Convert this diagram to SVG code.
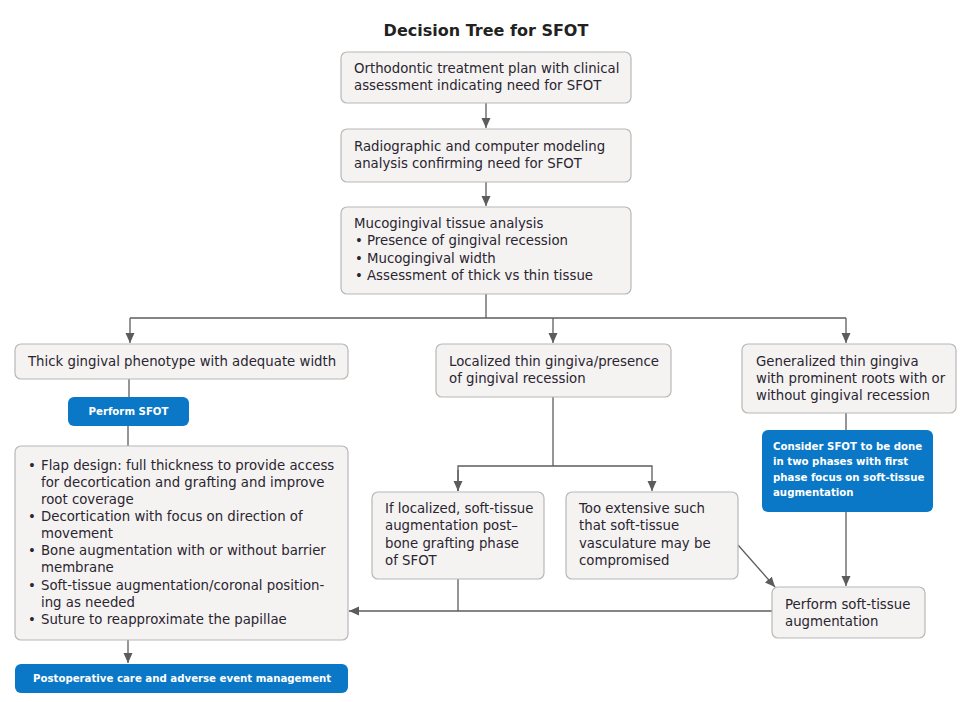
<svg xmlns="http://www.w3.org/2000/svg" width="967" height="702" viewBox="0 0 967 702">
<defs>
<marker id="ah" viewBox="0 0 10 10" refX="10" refY="5" markerWidth="10" markerHeight="10" markerUnits="userSpaceOnUse" orient="auto">
<path d="M0,0.5 L10,5 L0,9.5 Z" fill="#5c5c5c"/>
</marker>
<style>
.box{fill:#f4f3f2;stroke:#b8b8b8;stroke-width:1.2}
.blue{fill:#0a78c6}
.t{font-family:"DejaVu Sans","Liberation Sans",sans-serif;font-size:13.3px;fill:#2b2530}
.w{font-family:"DejaVu Sans","Liberation Sans",sans-serif;font-size:10.2px;font-weight:bold;fill:#ffffff}
.ttl{font-family:"DejaVu Sans","Liberation Sans",sans-serif;font-size:16px;font-weight:bold;fill:#222}
.c{fill:none;stroke:#5c5c5c;stroke-width:1.3}
</style>
</defs>
<rect width="967" height="702" fill="#ffffff"/>
<text class="ttl" x="486" y="36" text-anchor="middle">Decision Tree for SFOT</text>

<g id="connectors">
<line class="c" x1="486" y1="103" x2="486" y2="128" marker-end="url(#ah)"/>
<line class="c" x1="486" y1="182" x2="486" y2="206" marker-end="url(#ah)"/>
<polyline class="c" points="486,294 486,318"/>
<polyline class="c" points="130,318 846,318"/>
<line class="c" x1="130" y1="318" x2="130" y2="343" marker-end="url(#ah)"/>
<line class="c" x1="553" y1="318" x2="553" y2="343" marker-end="url(#ah)"/>
<line class="c" x1="846" y1="318" x2="846" y2="343" marker-end="url(#ah)"/>
<line class="c" x1="129" y1="379" x2="129" y2="397"/>
<line class="c" x1="128" y1="426" x2="128" y2="446"/>
<line class="c" x1="128" y1="640" x2="128" y2="663" marker-end="url(#ah)"/>
<line class="c" x1="553" y1="397" x2="553" y2="466"/>
<polyline class="c" points="458,491 458,466 652,466 652,491" marker-end="url(#ah)"/>
<line class="c" x1="458" y1="470" x2="458" y2="491" marker-end="url(#ah)"/>
<polyline class="c" points="458,579 458,611"/>
<line class="c" x1="772" y1="611" x2="349" y2="611" marker-end="url(#ah)"/>
<line class="c" x1="738" y1="545" x2="775" y2="587" marker-end="url(#ah)"/>
<line class="c" x1="846" y1="413" x2="846" y2="430"/>
<line class="c" x1="846" y1="512" x2="846" y2="586" marker-end="url(#ah)"/>
</g>

<g id="n1">
<rect class="box" x="341" y="52" width="290" height="51" rx="6"/>
<text class="t" x="354" y="73">Orthodontic treatment plan with clinical</text>
<text class="t" x="354" y="90">assessment indicating need for SFOT</text>
</g>
<g id="n2">
<rect class="box" x="341" y="129" width="290" height="53" rx="6"/>
<text class="t" x="354" y="151">Radiographic and computer modeling</text>
<text class="t" x="354" y="168">analysis confirming need for SFOT</text>
</g>
<g id="n3">
<rect class="box" x="341" y="207" width="290" height="87" rx="6"/>
<text class="t" x="354" y="228">Mucogingival tissue analysis</text>
<text class="t" x="355" y="245">•</text>
<text class="t" x="367" y="245">Presence of gingival recession</text>
<text class="t" x="355" y="263">•</text>
<text class="t" x="367" y="263">Mucogingival width</text>
<text class="t" x="355" y="280">•</text>
<text class="t" x="367" y="280">Assessment of thick vs thin tissue</text>
</g>
<g id="n4">
<rect class="box" x="15" y="344" width="333" height="35" rx="6"/>
<text class="t" x="28" y="366">Thick gingival phenotype with adequate width</text>
</g>
<g id="n5">
<rect class="blue" x="68" y="397" width="121" height="29" rx="6"/>
<text class="w" x="128.5" y="415" text-anchor="middle">Perform SFOT</text>
</g>
<g id="n6">
<rect class="box" x="15" y="446" width="333" height="194" rx="6"/>
<text class="t" x="28" y="470">•</text>
<text class="t" x="41" y="470">Flap design: full thickness to provide access</text>
<text class="t" x="41" y="487">for decortication and grafting and improve</text>
<text class="t" x="41" y="504">root coverage</text>
<text class="t" x="28" y="521">•</text>
<text class="t" x="41" y="521">Decortication with focus on direction of</text>
<text class="t" x="41" y="538">movement</text>
<text class="t" x="28" y="555">•</text>
<text class="t" x="41" y="555">Bone augmentation with or without barrier</text>
<text class="t" x="41" y="572">membrane</text>
<text class="t" x="28" y="590">•</text>
<text class="t" x="41" y="590">Soft-tissue augmentation/coronal position-</text>
<text class="t" x="41" y="607">ing as needed</text>
<text class="t" x="28" y="624">•</text>
<text class="t" x="41" y="624">Suture to reapproximate the papillae</text>
</g>
<g id="n7">
<rect class="blue" x="15" y="664" width="333" height="29" rx="6"/>
<text class="w" x="33" y="682">Postoperative care and adverse event management</text>
</g>
<g id="n8">
<rect class="box" x="436" y="344" width="235" height="53" rx="6"/>
<text class="t" x="449" y="366">Localized thin gingiva/presence</text>
<text class="t" x="449" y="383">of gingival recession</text>
</g>
<g id="n9">
<rect class="box" x="372" y="492" width="172" height="87" rx="6"/>
<text class="t" x="385" y="513">If localized, soft-tissue</text>
<text class="t" x="385" y="530">augmentation post–</text>
<text class="t" x="385" y="548">bone grafting phase</text>
<text class="t" x="385" y="565">of SFOT</text>
</g>
<g id="n10">
<rect class="box" x="566" y="492" width="172" height="87" rx="6"/>
<text class="t" x="579" y="513">Too extensive such</text>
<text class="t" x="579" y="530">that soft-tissue</text>
<text class="t" x="579" y="548">vasculature may be</text>
<text class="t" x="579" y="565">compromised</text>
</g>
<g id="n11">
<rect class="box" x="742" y="344" width="214" height="69" rx="6"/>
<text class="t" x="756" y="366">Generalized thin gingiva</text>
<text class="t" x="756" y="383">with prominent roots with or</text>
<text class="t" x="756" y="400">without gingival recession</text>
</g>
<g id="n12">
<rect class="blue" x="762" y="430" width="171" height="82" rx="6"/>
<text class="w" x="773" y="450">Consider SFOT to be done</text>
<text class="w" x="773" y="465">in two phases with first</text>
<text class="w" x="773" y="481">phase focus on soft-tissue</text>
<text class="w" x="773" y="496">augmentation</text>
</g>
<g id="n13">
<rect class="box" x="772" y="587" width="153" height="51" rx="6"/>
<text class="t" x="785" y="609">Perform soft-tissue</text>
<text class="t" x="785" y="626">augmentation</text>
</g>
</svg>
